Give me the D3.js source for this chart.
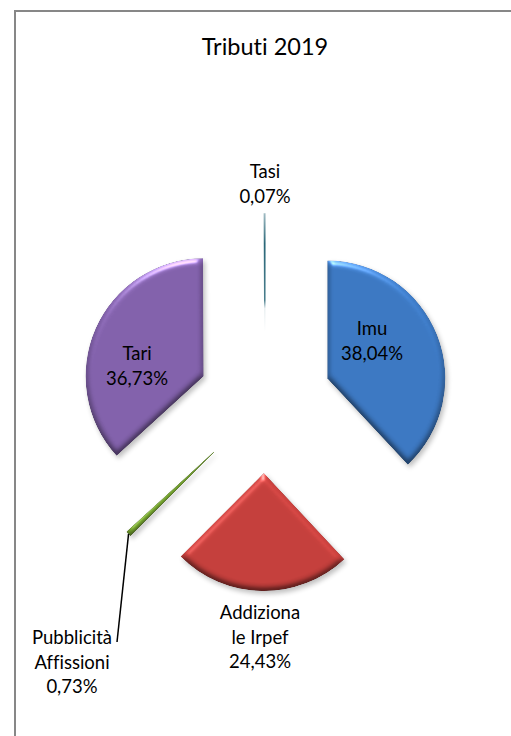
<!DOCTYPE html>
<html>
<head>
<meta charset="utf-8">
<script src="https://cdn.jsdelivr.net/npm/d3@7/dist/d3.min.js"></script>
<style>
  html, body { margin: 0; padding: 0; background: #fff; }
  svg { display: block; }
  text { font-family: Lato, "Open Sans", sans-serif; fill: #000; font-variant-ligatures: none; font-feature-settings: "liga" 0, "clig" 0; }
</style>
</head>
<body>
<svg id="chart" width="511" height="736"></svg>
<script>
// ---- data ----
const title = "Tributi 2019";
const categories = ["Imu", "Addizionale Irpef", "Pubblicità Affissioni", "Tari", "Tasi"];
const values = [38.04, 24.43, 0.73, 36.73, 0.07];
const labelLines = [["Imu"], ["Addiziona", "le Irpef"], ["Pubblicità", "Affissioni"], ["Tari"], ["Tasi"]];
const colors = ["#3C78C2", "#C43F3C", "#6F9B2C", "#8261AB", "#2A6778"];

// ---- layout ----
const W = 511, H = 736;
const cx = 265, cy = 403, R = 118;
const explode = [67, 70, 71, 67, 71];
const lineH = 24.5;
// label anchor: x centre, first baseline
const labelAnchor = [[372, 335], [260, 619], [72, 644], [137, 360], [265, 178]];

const svg = d3.select("#chart");
const defs = svg.append("defs");

// bevel-ish filter
const f = defs.append("filter").attr("id", "bevel")
  .attr("x", "-20%").attr("y", "-20%").attr("width", "140%").attr("height", "140%")
  .attr("color-interpolation-filters", "sRGB");
f.append("feGaussianBlur").attr("in", "SourceAlpha").attr("stdDeviation", 3).attr("result", "blur");
const dl = f.append("feDiffuseLighting").attr("in", "blur").attr("surfaceScale", 3)
  .attr("diffuseConstant", 1).attr("lighting-color", "#fff").attr("result", "diff");
dl.append("feDistantLight").attr("azimuth", 270).attr("elevation", 62);
f.append("feComposite").attr("in", "SourceGraphic").attr("in2", "diff")
  .attr("operator", "arithmetic").attr("k1", 1 / Math.sin(62 * Math.PI / 180)).attr("k2", 0).attr("k3", 0).attr("k4", 0).attr("result", "lit");
const sl = f.append("feSpecularLighting").attr("in", "blur").attr("surfaceScale", 3)
  .attr("specularConstant", 0.45).attr("specularExponent", 40).attr("lighting-color", "#fff").attr("result", "spec");
sl.append("feDistantLight").attr("azimuth", 260).attr("elevation", 35);
f.append("feComposite").attr("in", "spec").attr("in2", "SourceAlpha").attr("operator", "in").attr("result", "specIn");
f.append("feComposite").attr("in", "lit").attr("in2", "specIn")
  .attr("operator", "arithmetic").attr("k1", 0).attr("k2", 1).attr("k3", 1).attr("k4", 0).attr("result", "bev");
f.append("feComposite").attr("in", "bev").attr("in2", "SourceAlpha").attr("operator", "in").attr("result", "shape");
// drop shadow
f.append("feGaussianBlur").attr("in", "SourceAlpha").attr("stdDeviation", 2.5).attr("result", "sb");
f.append("feOffset").attr("in", "sb").attr("dx", 1.5).attr("dy", 2.5).attr("result", "so");
f.append("feComponentTransfer").attr("in", "so").attr("result", "sh")
  .append("feFuncA").attr("type", "linear").attr("slope", 0.25);
const m = f.append("feMerge");
m.append("feMergeNode").attr("in", "sh");
m.append("feMergeNode").attr("in", "shape");

// frame
svg.append("rect").attr("x", 15).attr("y", 11).attr("width", 620).attr("height", 800)
  .attr("fill", "none").attr("stroke", "#878787").attr("stroke-width", 2);

// title
svg.append("text").attr("x", 265).attr("y", 55).attr("text-anchor", "middle")
  .style("font-size", "23.5px").text(title);

const pie = d3.pie().sort(null).value(d => d)(values);
const arc = d3.arc().innerRadius(0).outerRadius(R);

const offset = (d, i) => {
  const a = (d.startAngle + d.endAngle) / 2;
  return [Math.sin(a) * explode[i], -Math.cos(a) * explode[i]];
};

// tapered stroke gradients for the hair-thin sliver (invisible near apex, visible at rim)
// coordinates are in the slice's own (translated) user space: apex at origin
pie.forEach((d, i) => {
  if (values[i] >= 0.5) return;
  const a = (d.startAngle + d.endAngle) / 2;
  const gr = defs.append("linearGradient").attr("id", "taper" + i)
    .attr("gradientUnits", "userSpaceOnUse")
    .attr("x1", 0).attr("y1", 0)
    .attr("x2", Math.sin(a) * R).attr("y2", -Math.cos(a) * R);
  gr.append("stop").attr("offset", 0).attr("stop-color", colors[i]).attr("stop-opacity", 0);
  gr.append("stop").attr("offset", 0.2).attr("stop-color", colors[i]).attr("stop-opacity", 0.1);
  gr.append("stop").attr("offset", 0.27).attr("stop-color", colors[i]).attr("stop-opacity", 0.85);
  gr.append("stop").attr("offset", 0.75).attr("stop-color", colors[i]).attr("stop-opacity", 1);
  gr.append("stop").attr("offset", 1).attr("stop-color", colors[i]).attr("stop-opacity", 0.45);
});

const g = svg.append("g").attr("transform", `translate(${cx},${cy})`);
g.selectAll("path.slice").data(pie).enter().append("path")
  .attr("class", "slice")
  .attr("d", arc)
  .attr("transform", (d, i) => { const o = offset(d, i); return `translate(${o[0]},${o[1]})`; })
  .attr("fill", (d, i) => values[i] < 0.5 ? "none" : colors[i])
  .attr("stroke", (d, i) => values[i] < 0.5 ? `url(#taper${i})` : (values[i] < 1 ? d3.color(colors[i]).darker(0.4) : "none"))
  .attr("stroke-width", (d, i) => values[i] < 0.5 ? 1.4 : (values[i] < 1 ? 0.8 : 0))
  .attr("filter", (d, i) => values[i] < 0.5 ? null : "url(#bevel)");

// leader line for Pubblicità Affissioni
{
  const i = 2, d = pie[i];
  const a = (d.startAngle + d.endAngle) / 2;
  const o = offset(d, i);
  const x0 = cx + o[0] + Math.sin(a) * R, y0 = cy + o[1] - Math.cos(a) * R;
  svg.append("line").attr("x1", x0).attr("y1", y0)
    .attr("x2", labelAnchor[i][0] + 45).attr("y2", labelAnchor[i][1] - 2)
    .attr("stroke", "#000").attr("stroke-width", 1.5);
}

const fmt = v => d3.format(".2f")(v).replace(".", ",") + "%";

// labels
pie.forEach((d, i) => {
  const lines = labelLines[i].concat([fmt(values[i])]);
  const t = svg.append("text").attr("text-anchor", "middle").style("font-size", "18.5px");
  lines.forEach((s, k) => {
    t.append("tspan").attr("x", labelAnchor[i][0]).attr("y", labelAnchor[i][1] + k * lineH).text(s);
  });
});
</script>
</body>
</html>
